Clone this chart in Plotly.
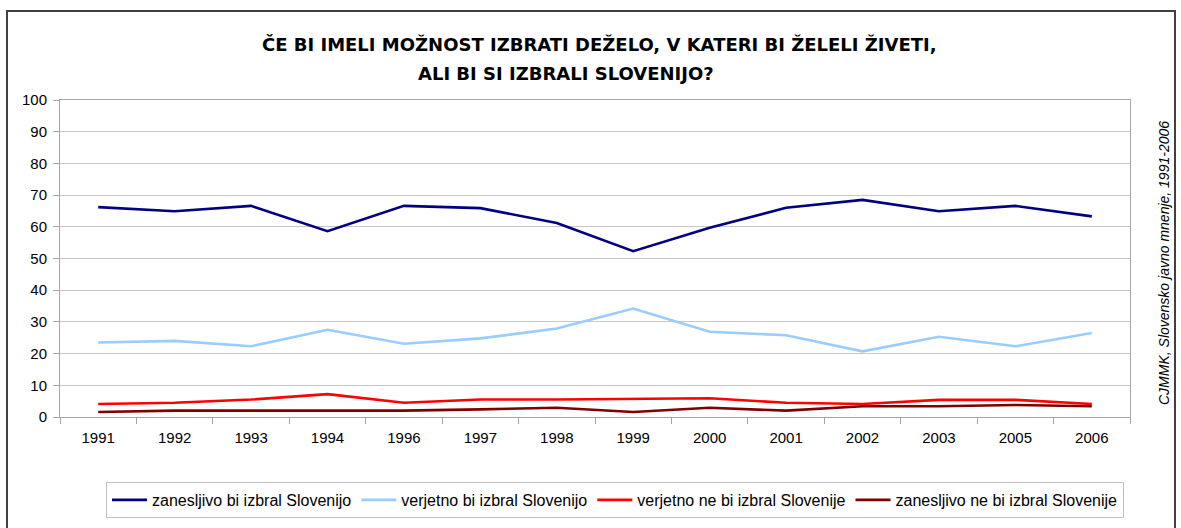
import plotly.graph_objects as go

years = ["1991", "1992", "1993", "1994", "1996", "1997", "1998", "1999",
         "2000", "2001", "2002", "2003", "2005", "2006"]
zanesljivo_bi = [66.2, 64.9, 66.6, 58.6, 66.6, 65.9, 61.2, 52.3, 59.7, 66.0, 68.5, 64.9, 66.6, 63.3]
verjetno_bi = [23.5, 24.0, 22.3, 27.5, 23.1, 24.8, 27.9, 34.2, 26.9, 25.8, 20.7, 25.3, 22.3, 26.5]
verjetno_ne = [4.1, 4.5, 5.5, 7.2, 4.5, 5.5, 5.5, 5.8, 5.9, 4.5, 4.1, 5.4, 5.4, 4.1]
zanesljivo_ne = [1.6, 2.0, 2.0, 2.0, 2.0, 2.4, 2.9, 1.6, 2.9, 2.0, 3.4, 3.4, 3.8, 3.4]

series_names = ["zanesljivo bi izbral Slovenijo", "verjetno bi izbral Slovenijo",
                "verjetno ne bi izbral Slovenije", "zanesljivo ne bi izbral Slovenije"]
series_values = [zanesljivo_bi, verjetno_bi, verjetno_ne, zanesljivo_ne]
colors = ["#000080", "#99ccff", "#ff0000", "#800000"]

SANS = "Liberation Sans, Arial, sans-serif"

fig = go.Figure()
for name, vals, col in zip(series_names, series_values, colors):
    fig.add_trace(go.Scatter(x=years, y=vals, mode="lines", name=name,
                             line=dict(color=col, width=2.6)))

W, H = 1181, 528
L, R, T, B = 60, 1130, 100, 417
pw, ph = R - L, B - T

def px(x):
    return (x - L) / pw

def py(y):
    return (B - y) / ph

fig.update_layout(
    width=W, height=H,
    margin=dict(l=L, r=W - R, t=T, b=H - B, autoexpand=False),
    paper_bgcolor="white", plot_bgcolor="white",
    font=dict(family=SANS, size=15, color="#000000"),
    showlegend=True,
    legend=dict(orientation="h", x=px(615), y=py(500), xanchor="center", yanchor="middle",
                bordercolor="#bfbfbf", borderwidth=1, font=dict(size=16, family=SANS),
                itemwidth=35, tracegroupgap=0),
    xaxis=dict(type="category", showgrid=False, showline=True, linecolor="#a6a6a6",
               linewidth=1, mirror=True, ticks="outside", tickson="boundaries",
               ticklen=6, tickcolor="#a6a6a6", tickfont=dict(size=15, family=SANS),
               ticklabelstandoff=7, range=[-0.5, 13.5], zeroline=False),
    yaxis=dict(range=[0, 100], dtick=10, showgrid=True, gridcolor="#c8c8c8", gridwidth=1,
               showline=True, linecolor="#a6a6a6", mirror=True, ticks="outside",
               ticklen=6, tickcolor="#a6a6a6", tickfont=dict(size=15, family=SANS),
               ticklabelstandoff=3, zeroline=False),
)

fig.add_annotation(text="<b>ČE BI IMELI MOŽNOST IZBRATI DEŽELO, V KATERI BI ŽELELI ŽIVETI,</b>",
                   xref="paper", yref="paper", x=px(600), y=py(45), xanchor="center", yanchor="middle",
                   showarrow=False, font=dict(size=18, family="DejaVu Sans, sans-serif"))
fig.add_annotation(text="<b>ALI BI SI IZBRALI SLOVENIJO?</b>",
                   xref="paper", yref="paper", x=px(566), y=py(73), xanchor="center", yanchor="middle",
                   showarrow=False, font=dict(size=18, family="DejaVu Sans, sans-serif"))
fig.add_annotation(text="<i>CJMMK, Slovensko javno mnenje, 1991-2006</i>",
                   xref="paper", yref="paper", x=px(1164), y=py(263), xanchor="center", yanchor="middle",
                   showarrow=False, textangle=-90,
                   font=dict(size=14, family=SANS))

fig.add_shape(type="rect", xref="paper", yref="paper",
              x0=px(7), x1=px(1175), y0=py(540), y1=py(11),
              line=dict(color="#404040", width=2), fillcolor="rgba(0,0,0,0)", layer="below")

fig.write_html("out.html", config={"displayModeBar": False},
               post_script="document.body.style.margin='0';")
